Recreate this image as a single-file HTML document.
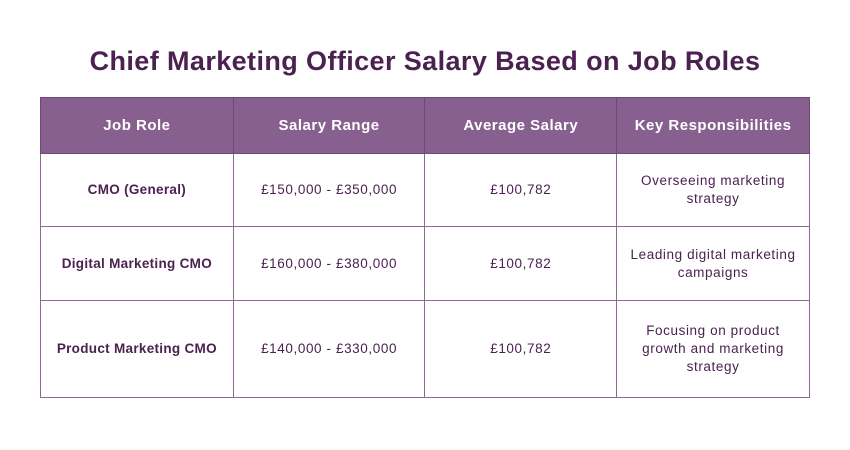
<!DOCTYPE html>
<html><head><style>
body{margin:0;width:850px;height:450px;background:#fff;font-family:"Liberation Sans",sans-serif;position:relative;overflow:hidden}
h1{position:absolute;top:46px;left:0;width:850px;margin:0;text-align:center;font-size:27px;font-weight:bold;color:#4b2150;letter-spacing:0.4px}
table{position:absolute;left:40px;top:97px;border-collapse:collapse;width:770px}
td,th{border:1px solid #8d6a93;text-align:center;vertical-align:middle;font-size:13.5px;color:#4b2150;padding:0 4px;line-height:18px;letter-spacing:0.6px}
th{background:#88608f;color:#fff;font-size:15px;font-weight:bold;height:55px;border-color:#6f4a77;letter-spacing:0.5px}
td:first-child{font-weight:bold;letter-spacing:0.3px}
</style></head><body>
<h1>Chief Marketing Officer Salary Based on Job Roles</h1>
<table>
<colgroup><col style="width:193px"><col style="width:192px"><col style="width:192px"><col style="width:193px"></colgroup>
<tr><th>Job Role</th><th>Salary Range</th><th>Average Salary</th><th>Key Responsibilities</th></tr>
<tr style="height:73px"><td>CMO (General)</td><td>£150,000 - £350,000</td><td>£100,782</td><td>Overseeing marketing<br>strategy</td></tr>
<tr style="height:74px"><td>Digital Marketing CMO</td><td>£160,000 - £380,000</td><td>£100,782</td><td>Leading digital marketing<br>campaigns</td></tr>
<tr style="height:97px"><td>Product Marketing CMO</td><td>£140,000 - £330,000</td><td>£100,782</td><td>Focusing on product<br>growth and marketing<br>strategy</td></tr>
</table>
</body></html>
